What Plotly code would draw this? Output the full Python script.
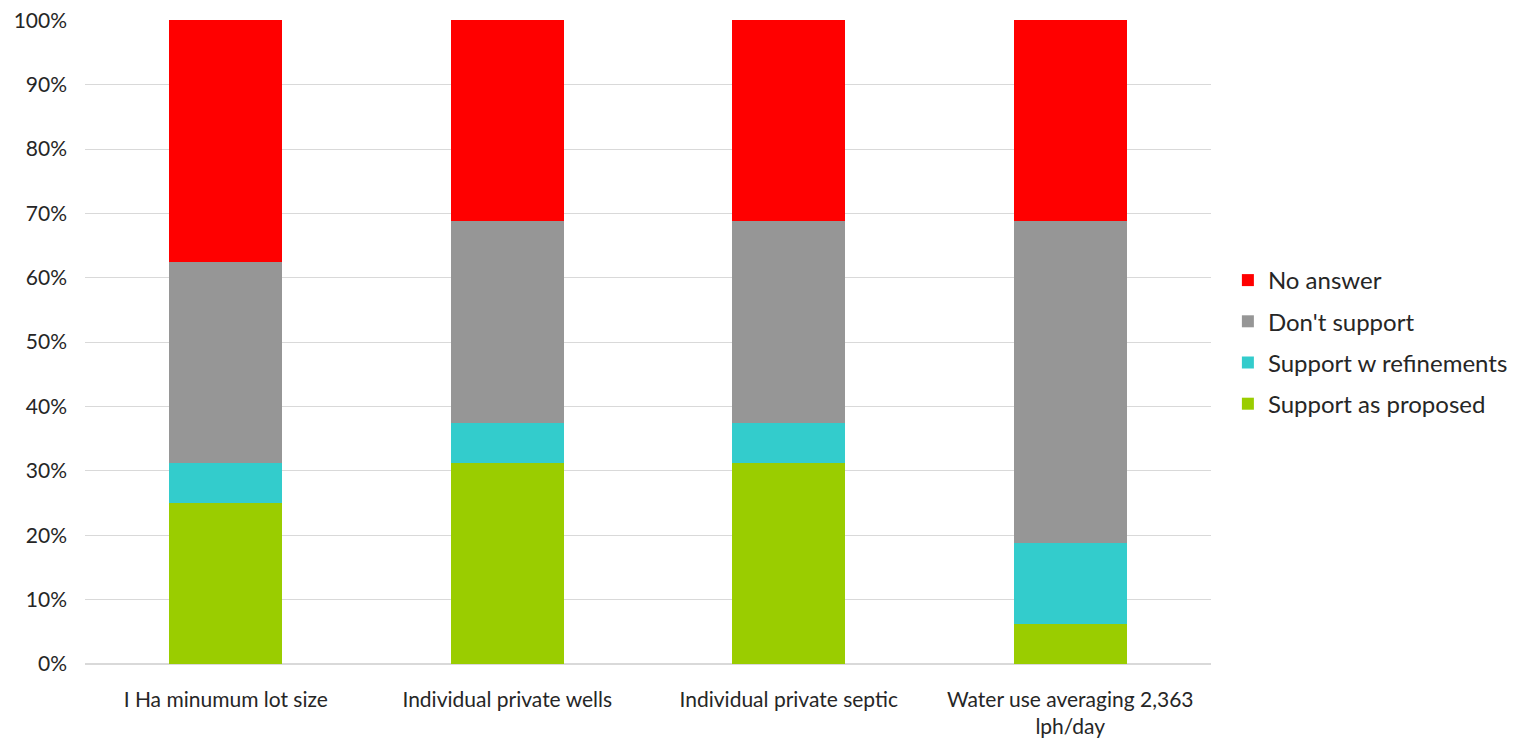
import plotly.graph_objects as go

categories = ["I Ha minumum lot size", "Individual private wells", "Individual private septic", "Water use averaging 2,363<br>lph/day"]
support_as_proposed = [0.25, 0.3125, 0.3125, 0.0625]
support_w_refinements = [0.0625, 0.0625, 0.0625, 0.125]
dont_support = [0.3125, 0.3125, 0.3125, 0.50]
no_answer = [0.375, 0.3125, 0.3125, 0.3125]
y_ticks = [0, 0.1, 0.2, 0.3, 0.4, 0.5, 0.6, 0.7, 0.8, 0.9, 1.0]
y_tick_labels = ["0%", "10%", "20%", "30%", "40%", "50%", "60%", "70%", "80%", "90%", "100%"]

series = [
    ("Support as proposed", support_as_proposed, "#9ACD00", 4),
    ("Support w refinements", support_w_refinements, "#33CCCC", 3),
    ("Don't support", dont_support, "#969696", 2),
    ("No answer", no_answer, "#FF0000", 1),
]

fig = go.Figure()
for name, vals, color, rank in series:
    fig.add_trace(go.Bar(x=categories, y=vals, name=name, legendgroup=name, legendrank=rank,
                         marker=dict(color=color, line=dict(width=0)), width=0.4))

font_family = "Lato, 'Open Sans', sans-serif"
fig.update_layout(
    barmode="stack",
    width=1522, height=743,
    margin=dict(l=77, r=319, t=12, b=87, autoexpand=False),
    plot_bgcolor="white", paper_bgcolor="white",
    font=dict(family=font_family, size=21, color="#262626"),
    legend=dict(
        traceorder="grouped",
        x=1.015, xanchor="left", y=0.5, yanchor="middle",
        font=dict(size=24, color="#262626"),
        itemwidth=30,
        tracegroupgap=7,
    ),
    xaxis=dict(showgrid=False, showline=False, ticks="", tickfont=dict(size=21),
               automargin=False, ticklabelstandoff=21),
    yaxis=dict(
        range=[0, 1.0004], tickmode="array", tickvals=y_ticks, ticktext=y_tick_labels,
        gridcolor="#D9D9D9", gridwidth=1, zeroline=True, zerolinecolor="#D9D9D9",
        showline=False, ticks="", tickfont=dict(size=21), automargin=False,
        ticklabelstandoff=17, ticklabeloverflow="allow",
    ),
)

fig.write_html("out.html")
